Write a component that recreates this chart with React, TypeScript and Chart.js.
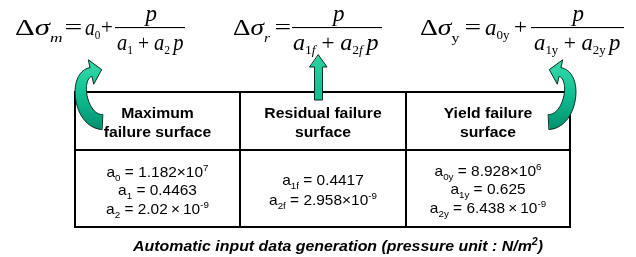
import React, { useEffect, useRef } from "react";
import { Chart, registerables } from "chart.js";
Chart.register(...registerables);

// ---------- data (texts and values) ----------
const surfaceHeaders: string[][] = [
  ["Maximum", "failure surface"],
  ["Residual failure", "surface"],
  ["Yield failure", "surface"],
];
const maxSubs = ["0", "1", "2"];
const maxMantissas = ["1.182", "0.4463", "2.02"];
const maxExponents = ["7", "", "-9"];
const residualSubs = ["1f", "2f"];
const residualMantissas = ["0.4417", "2.958"];
const residualExponents = ["", "-9"];
const yieldSubs = ["0y", "1y", "2y"];
const yieldMantissas = ["8.928", "0.625", "6.438"];
const yieldExponents = ["6", "", "-9"];
const formulaLhsSubs = ["m", "r", "y"];
const formulaConstSubs = ["0", "", "0y"];
const formulaDen1Subs = ["1", "1f", "1y"];
const formulaDen2Subs = ["2", "2f", "2y"];
const captionText = "Automatic input data generation (pressure unit : N/m";
const captionSup = "2";
const captionEnd = ")";

// ---------- layout (positions / styles) ----------
const W = 636;
const H = 257;
const SANS = '"Liberation Sans", Arial, sans-serif';
const SERIF = '"Liberation Serif", "Times New Roman", serif';
const tableCols = [75, 240, 406, 570];
const tableRows = [92, 150, 227];
const headerBaselines = [118, 137];
const coefBaselines = [
  [177, 195, 214],
  [185, 205],
  [176, 194, 213],
];
const spacedTimes = [
  [false, false, true],
  [false, false],
  [false, false, true],
];
const formulaLayout = [
  { lhs: [15, 62], eq: [66, 81], a0: [85, 100], plus: [102, 112], frac: [115, 185], numCx: 150, den: [117, 183] },
  { lhs: [233, 271], eq: [276, 290], a0: null, plus: null, frac: [292, 382], numCx: 337.5, den: [293, 378] },
  { lhs: [420, 460], eq: [466, 480], a0: [485, 510], plus: [515, 526], frac: [531, 624], numCx: 577, den: [534, 620] },
];

type Tok = { t: string; f: string; dy?: number };

const serif = (size: number, italic: boolean) => `${italic ? "italic " : ""}${size}px ${SERIF}`;
const sans = (size: number, style = "") => `${style} ${size}px ${SANS}`.trim();

function inkMetrics(ctx: CanvasRenderingContext2D, toks: Tok[]) {
  let adv = 0;
  let start = 0;
  let end = 0;
  toks.forEach((k, i) => {
    ctx.font = k.f;
    const m = ctx.measureText(k.t);
    if (i === 0) start = -m.actualBoundingBoxLeft;
    if (i === toks.length - 1) end = adv + m.actualBoundingBoxRight;
    adv += m.width;
  });
  return { adv, start, end };
}

function drawRun(ctx: CanvasRenderingContext2D, toks: Tok[], x: number, y: number, sx: number) {
  ctx.save();
  ctx.translate(x, y);
  ctx.scale(sx, 1);
  let cx = 0;
  for (const k of toks) {
    ctx.font = k.f;
    ctx.fillText(k.t, cx, k.dy || 0);
    cx += ctx.measureText(k.t).width;
  }
  ctx.restore();
}

function fitInk(ctx: CanvasRenderingContext2D, toks: Tok[], x1: number, x2: number, y: number) {
  const { start, end } = inkMetrics(ctx, toks);
  const sx = (x2 - x1) / (end - start);
  drawRun(ctx, toks, x1 - start * sx, y, sx);
}

function centerInk(ctx: CanvasRenderingContext2D, toks: Tok[], cx: number, y: number) {
  const { start, end } = inkMetrics(ctx, toks);
  drawRun(ctx, toks, cx - (start + end) / 2, y, 1);
}

function centerAdv(ctx: CanvasRenderingContext2D, toks: Tok[], cx: number, y: number, sx: number) {
  const { adv } = inkMetrics(ctx, toks);
  drawRun(ctx, toks, cx - (adv * sx) / 2, y, sx);
}

function subToks(s: string, size: number, dy: number): Tok[] {
  return s.split("").map((c) => ({ t: c, f: serif(size, /[a-z]/.test(c) && c !== "y"), dy }));
}

type P = [number, number];
function bez(p0: P, p1: P, p2: P, p3: P, t: number): P {
  const u = 1 - t;
  return [
    u * u * u * p0[0] + 3 * u * u * t * p1[0] + 3 * u * t * t * p2[0] + t * t * t * p3[0],
    u * u * u * p0[1] + 3 * u * u * t * p1[1] + 3 * u * t * t * p2[1] + t * t * t * p3[1],
  ];
}
function bezD(p0: P, p1: P, p2: P, p3: P, t: number): P {
  const u = 1 - t;
  return [
    3 * u * u * (p1[0] - p0[0]) + 6 * u * t * (p2[0] - p1[0]) + 3 * t * t * (p3[0] - p2[0]),
    3 * u * u * (p1[1] - p0[1]) + 6 * u * t * (p2[1] - p1[1]) + 3 * t * t * (p3[1] - p2[1]),
  ];
}

function curvedArrowPath(
  pts: P[],
  w0: number,
  w1: number,
  headHalf: number,
  headLen: number,
  mirror: number | null
): P[] {
  const [p0, p1, p2, p3] = pts;
  const n = 40;
  const left: P[] = [];
  const right: P[] = [];
  let lastN: P = [0, 0];
  let lastT: P = [0, 0];
  for (let i = 0; i <= n; i++) {
    const t = i / n;
    const b = bez(p0, p1, p2, p3, t);
    const d = bezD(p0, p1, p2, p3, t);
    const len = Math.hypot(d[0], d[1]) || 1;
    const T: P = [d[0] / len, d[1] / len];
    const N: P = [-T[1], T[0]];
    const w = w0 + (w1 - w0) * t;
    left.push([b[0] + (N[0] * w) / 2, b[1] + (N[1] * w) / 2]);
    right.push([b[0] - (N[0] * w) / 2, b[1] - (N[1] * w) / 2]);
    lastN = N;
    lastT = T;
  }
  const out: P[] = [
    ...left,
    [p3[0] + lastN[0] * headHalf, p3[1] + lastN[1] * headHalf],
    [p3[0] + lastT[0] * headLen, p3[1] + lastT[1] * headLen],
    [p3[0] - lastN[0] * headHalf, p3[1] - lastN[1] * headHalf],
    ...right.reverse(),
  ];
  return mirror === null ? out : out.map(([x, y]) => [2 * mirror - x, y] as P);
}

const diagramPlugin = {
  id: "diagram",
  beforeDraw(chart: any) {
    const ctx = chart.ctx as CanvasRenderingContext2D;
    ctx.save();
    ctx.fillStyle = "#ffffff";
    ctx.fillRect(0, 0, chart.width, chart.height);
    ctx.restore();
  },
  afterDraw(chart: any) {
    const ctx = chart.ctx as CanvasRenderingContext2D;
    const xs = chart.scales.x;
    const ys = chart.scales.y;
    const X = (v: number) => xs.getPixelForValue(v);
    const Y = (v: number) => ys.getPixelForValue(v);
    ctx.save();
    ctx.fillStyle = "#000";
    ctx.textBaseline = "alphabetic";
    ctx.textAlign = "left";

    // ---- formulas ----
    formulaLayout.forEach((L, i) => {
      const lhs: Tok[] = [
        { t: "Δ", f: serif(23, false) },
        { t: "σ", f: serif(23, true) },
        ...subToks(formulaLhsSubs[i], 13, 7),
      ];
      fitInk(ctx, lhs, X(L.lhs[0]), X(L.lhs[1]), Y(35));
      fitInk(ctx, [{ t: "=", f: serif(21, false) }], X(L.eq[0]), X(L.eq[1]), Y(34));
      if (L.a0 && formulaConstSubs[i]) {
        fitInk(
          ctx,
          [{ t: "a", f: serif(23, true) }, ...subToks(formulaConstSubs[i], 13, 4)],
          X(L.a0[0]),
          X(L.a0[1]),
          Y(35)
        );
      }
      if (L.plus) fitInk(ctx, [{ t: "+", f: serif(21, false) }], X(L.plus[0]), X(L.plus[1]), Y(34));
      ctx.fillRect(X(L.frac[0]), Y(27), X(L.frac[1]) - X(L.frac[0]), 1.1);
      centerInk(ctx, [{ t: "p", f: serif(23, true) }], X(L.numCx), Y(21));
      const den: Tok[] = [
        { t: "a", f: serif(23, true) },
        ...subToks(formulaDen1Subs[i], 13, 4),
        { t: " + ", f: serif(22, false) },
        { t: "a", f: serif(23, true) },
        ...subToks(formulaDen2Subs[i], 13, 4),
        { t: " ", f: serif(14, false) },
        { t: "p", f: serif(23, true) },
      ];
      fitInk(ctx, den, X(L.den[0]), X(L.den[1]), Y(50));
    });

    // ---- table ----
    ctx.strokeStyle = "#000";
    ctx.lineWidth = 2;
    ctx.lineCap = "square";
    ctx.beginPath();
    for (const r of tableRows) {
      ctx.moveTo(X(tableCols[0]), Y(r));
      ctx.lineTo(X(tableCols[tableCols.length - 1]), Y(r));
    }
    for (const c of tableCols) {
      ctx.moveTo(X(c), Y(tableRows[0]));
      ctx.lineTo(X(c), Y(tableRows[tableRows.length - 1]));
    }
    ctx.stroke();

    surfaceHeaders.forEach((lines, ci) => {
      const cx = (tableCols[ci] + tableCols[ci + 1]) / 2;
      lines.forEach((line, li) => {
        centerAdv(ctx, [{ t: line, f: sans(15, "bold") }], X(cx), Y(headerBaselines[li]), 1.05);
      });
    });

    const coefCols = [
      [maxSubs, maxMantissas, maxExponents],
      [residualSubs, residualMantissas, residualExponents],
      [yieldSubs, yieldMantissas, yieldExponents],
    ];
    coefCols.forEach(([subs, mants, exps], ci) => {
      const cx = (tableCols[ci] + tableCols[ci + 1]) / 2;
      subs.forEach((s, ri) => {
        const toks: Tok[] = [
          { t: "a", f: sans(15) },
          { t: s, f: sans(9.5), dy: 4 },
          { t: " = ", f: sans(15) },
          { t: mants[ri], f: sans(15) },
        ];
        if (exps[ri]) {
          toks.push({ t: spacedTimes[ci][ri] ? "\u2009×\u2009" : "×", f: sans(15) });
          toks.push({ t: "10", f: sans(15) });
          toks.push({ t: exps[ri], f: sans(9.5), dy: -6 });
        }
        centerAdv(ctx, toks, X(cx), Y(coefBaselines[ci][ri]), 1.03);
      });
    });

    // ---- caption ----
    fitInk(
      ctx,
      [
        { t: captionText, f: sans(15, "italic bold") },
        { t: captionSup, f: sans(10, "italic bold"), dy: -6 },
        { t: captionEnd, f: sans(15, "italic bold") },
      ],
      X(132),
      X(543),
      Y(251)
    );

    // ---- arrows ----
    const fillPoly = (poly: P[], grad: CanvasGradient) => {
      ctx.beginPath();
      poly.forEach(([x, y], k) => (k === 0 ? ctx.moveTo(X(x), Y(y)) : ctx.lineTo(X(x), Y(y))));
      ctx.closePath();
      ctx.fillStyle = grad;
      ctx.fill();
      ctx.strokeStyle = "rgba(0,35,25,0.95)";
      ctx.lineWidth = 1;
      ctx.lineJoin = "miter";
      ctx.stroke();
    };
    const vgrad = () => {
      const g = ctx.createLinearGradient(0, Y(56), 0, Y(131));
      g.addColorStop(0, "#3cdcad");
      g.addColorStop(0.45, "#14c597");
      g.addColorStop(1, "#008e6c");
      return g;
    };
    const arrowPts: P[] = [
      [102, 122],
      [80, 121],
      [73, 76],
      [91, 72],
    ];
    fillPoly(curvedArrowPath(arrowPts, 15, 9, 12.5, 11, null), vgrad());
    fillPoly(curvedArrowPath(arrowPts, 15, 9, 12.5, 11, 325.5), vgrad());

    const g2 = ctx.createLinearGradient(0, Y(55), 0, Y(100));
    g2.addColorStop(0, "#2ad3a3");
    g2.addColorStop(1, "#0bbf8e");
    const straight: P[] = [
      [318.5, 55],
      [327, 67],
      [322.5, 67],
      [322.5, 100],
      [314.5, 100],
      [314.5, 67],
      [310, 67],
    ];
    fillPoly(straight, g2);

    ctx.restore();
  },
};

export default function App() {
  const ref = useRef<HTMLCanvasElement | null>(null);
  useEffect(() => {
    if (!ref.current) return;
    const chart = new Chart(ref.current, {
      type: "scatter",
      data: { datasets: [{ data: [] }] },
      options: {
        animation: false,
        responsive: false,
        devicePixelRatio: 1,
        events: [],
        layout: { padding: 0 },
        plugins: {
          legend: { display: false },
          tooltip: { enabled: false },
          title: { display: false },
        },
        scales: {
          x: { type: "linear", min: 0, max: W, display: false },
          y: { type: "linear", min: 0, max: H, reverse: true, display: false },
        },
      },
      plugins: [diagramPlugin as any],
    });
    return () => chart.destroy();
  }, []);
  return (
    <div style={{ position: "fixed", left: 0, top: 0, width: W, height: H, background: "#fff" }}>
      <canvas ref={ref} width={W} height={H} style={{ display: "block", width: W, height: H }} />
    </div>
  );
}
